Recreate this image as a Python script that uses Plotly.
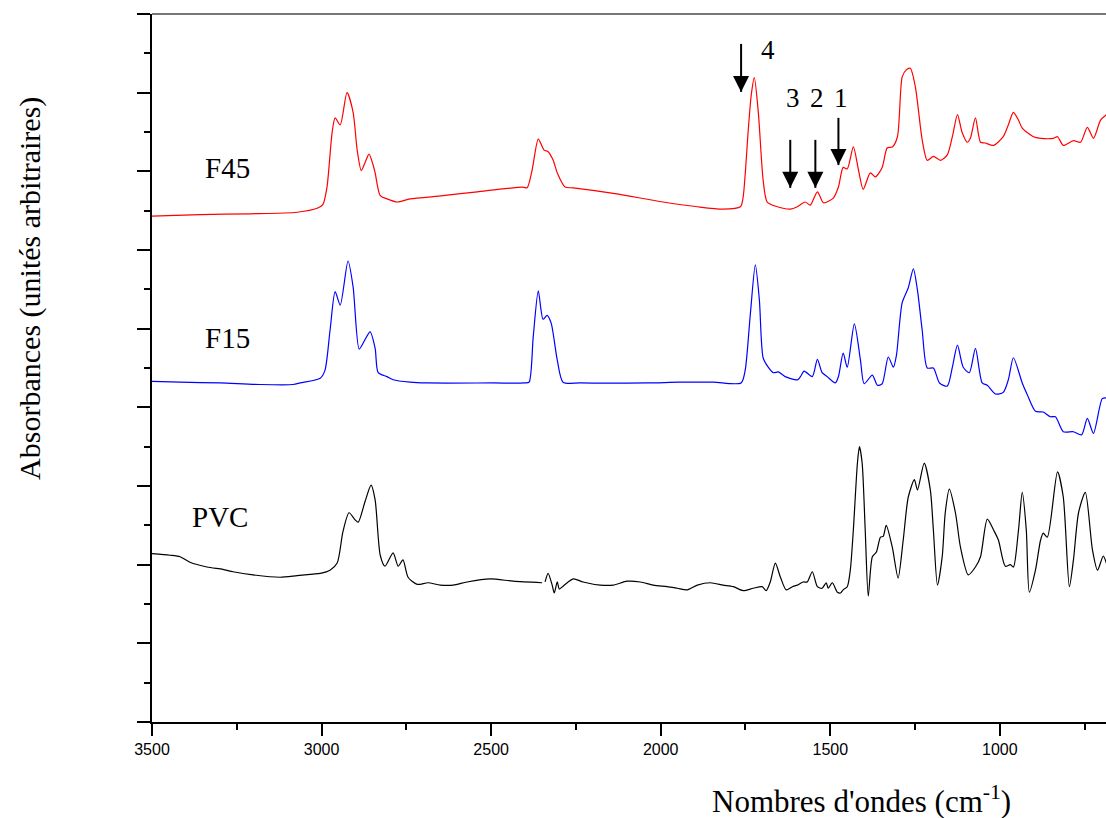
import plotly.graph_objects as go

# Infrared spectra (wavenumber in cm-1, absorbance in arbitrary offset units)
f45_wn = [3500, 3358, 3211, 3072, 3013, 2996, 2984, 2969, 2960, 2945, 2925, 2907,
          2895, 2883, 2872, 2860, 2848, 2842, 2827, 2807, 2777, 2739, 2642, 2541,
          2406, 2394, 2379, 2361, 2344, 2332, 2317, 2305, 2282, 2258, 2140, 1993,
          1892, 1816, 1765, 1757, 1742, 1733, 1724, 1712, 1698, 1686, 1656, 1618,
          1597, 1574, 1559, 1538, 1520, 1491, 1476, 1462, 1450, 1432, 1417, 1403,
          1382, 1367, 1347, 1332, 1317, 1302, 1288, 1276, 1264, 1249, 1229, 1214,
          1196, 1175, 1155, 1140, 1125, 1111, 1096, 1087, 1072, 1057, 1043, 1019,
          990, 975, 960, 945, 934, 901, 880, 842, 830, 813, 783, 762, 742, 724,
          703, 686]
f45_abs = [6.43, 6.45, 6.46, 6.48, 6.53, 6.58, 6.80, 7.49, 7.68, 7.59, 8.00, 7.75,
           7.27, 7.01, 7.11, 7.22, 7.08, 6.98, 6.69, 6.65, 6.61, 6.65, 6.69, 6.74,
           6.80, 6.79, 7.02, 7.41, 7.27, 7.25, 7.14, 6.98, 6.80, 6.79, 6.72, 6.61,
           6.55, 6.52, 6.55, 6.67, 7.52, 7.97, 8.19, 7.74, 6.89, 6.61, 6.55, 6.52,
           6.55, 6.61, 6.57, 6.74, 6.60, 6.66, 6.80, 7.05, 7.03, 7.31, 7.02, 6.77,
           6.98, 6.93, 7.05, 7.30, 7.31, 7.44, 8.20, 8.29, 8.31, 8.07, 7.40, 7.14,
           7.19, 7.14, 7.21, 7.44, 7.72, 7.49, 7.37, 7.42, 7.68, 7.37, 7.36, 7.33,
           7.44, 7.59, 7.75, 7.65, 7.55, 7.44, 7.42, 7.42, 7.44, 7.33, 7.39, 7.37,
           7.56, 7.42, 7.65, 7.72]

f15_wn = [3500, 3417, 3299, 3181, 3084, 3063, 3004, 2990, 2975, 2960, 2945, 2922,
          2907, 2889, 2872, 2857, 2842, 2833, 2807, 2789, 2739, 2689, 2494, 2400,
          2388, 2376, 2361, 2347, 2335, 2323, 2305, 2288, 2237, 2040, 1944, 1845,
          1763, 1751, 1736, 1721, 1709, 1698, 1683, 1668, 1653, 1633, 1597, 1588,
          1577, 1553, 1538, 1524, 1509, 1485, 1476, 1462, 1450, 1429, 1411, 1400,
          1376, 1361, 1347, 1329, 1314, 1305, 1288, 1270, 1255, 1243, 1229, 1214,
          1196, 1178, 1155, 1140, 1125, 1108, 1090, 1072, 1052, 1037, 1013, 990,
          975, 960, 934, 919, 895, 872, 851, 836, 813, 783, 759, 742, 724, 698, 686]
f15_abs = [4.33, 4.32, 4.31, 4.29, 4.29, 4.31, 4.37, 4.47, 4.98, 5.47, 5.30, 5.86,
           5.53, 4.74, 4.86, 4.96, 4.75, 4.44, 4.39, 4.35, 4.32, 4.31, 4.31, 4.31,
           4.32, 4.89, 5.48, 5.12, 5.17, 5.07, 4.60, 4.32, 4.31, 4.31, 4.32, 4.32,
           4.31, 4.47, 5.17, 5.81, 5.36, 4.63, 4.51, 4.44, 4.45, 4.39, 4.35, 4.39,
           4.46, 4.39, 4.61, 4.44, 4.39, 4.31, 4.39, 4.69, 4.51, 5.06, 4.60, 4.30,
           4.41, 4.28, 4.30, 4.64, 4.51, 4.66, 5.33, 5.52, 5.76, 5.49, 4.98, 4.50,
           4.50, 4.31, 4.27, 4.51, 4.79, 4.51, 4.44, 4.75, 4.31, 4.28, 4.17, 4.19,
           4.35, 4.63, 4.31, 4.16, 3.95, 3.94, 3.88, 3.88, 3.69, 3.69, 3.65, 3.86,
           3.67, 4.11, 4.12]

pvc_wn = [3500, 3447, 3417, 3388, 3338, 3291, 3261, 3202, 3122, 3072, 3025, 3004,
          2975, 2954, 2937, 2919, 2901, 2892, 2872, 2854, 2842, 2827, 2813, 2789,
          2774, 2760, 2745, 2718, 2686, 2650, 2612, 2571, 2503, 2435, 2350, None,
          2341, 2332, 2320, 2314, 2305, 2299, 2287, 2258, 2229, 2178, 2140, 2099,
          2060, 2022, 1981, 1951, 1922, 1892, 1854, 1816, 1786, 1757, 1727, 1701,
          1689, 1677, 1662, 1647, 1630, 1612, 1597, 1580, 1568, 1553, 1538, 1524,
          1512, 1506, 1494, 1479, 1470, 1462, 1450, 1441, 1432, 1420, 1414, 1406,
          1397, 1388, 1376, 1364, 1352, 1344, 1335, 1317, 1300, 1285, 1270, 1252,
          1243, 1223, 1205, 1196, 1184, 1170, 1161, 1149, 1131, 1116, 1093, 1072,
          1057, 1037, 1016, 1004, 984, 969, 960, 945, 934, 922, 913, 895, 880, 872,
          860, 830, 813, 795, 783, 768, 748, 727, 712, 695, 686]
pvc_abs = [2.14, 2.12, 2.10, 2.03, 1.97, 1.94, 1.91, 1.87, 1.84, 1.86, 1.88, 1.89,
           1.93, 2.02, 2.42, 2.66, 2.57, 2.54, 2.80, 3.01, 2.82, 2.12, 1.98, 2.15,
           1.98, 2.06, 1.84, 1.75, 1.77, 1.74, 1.74, 1.78, 1.82, 1.79, 1.77, None,
           1.78, 1.89, 1.74, 1.64, 1.78, 1.69, 1.73, 1.82, 1.78, 1.74, 1.74, 1.79,
           1.78, 1.74, 1.72, 1.70, 1.68, 1.74, 1.77, 1.74, 1.72, 1.67, 1.70, 1.72,
           1.67, 1.78, 2.02, 1.84, 1.68, 1.72, 1.74, 1.78, 1.78, 1.91, 1.72, 1.70,
           1.77, 1.70, 1.77, 1.65, 1.64, 1.68, 1.72, 1.93, 2.44, 3.29, 3.50, 3.29,
           2.44, 1.60, 2.10, 2.16, 2.35, 2.36, 2.50, 2.22, 1.83, 2.31, 2.86, 3.08,
           2.95, 3.29, 2.95, 2.44, 1.74, 2.10, 2.66, 2.96, 2.66, 2.22, 1.87, 1.97,
           2.10, 2.58, 2.42, 2.31, 1.98, 2.00, 1.97, 2.44, 2.92, 2.44, 1.65, 1.93,
           2.31, 2.40, 2.35, 3.18, 2.86, 1.72, 2.06, 2.66, 2.92, 2.19, 1.93, 2.11,
           2.02]

x_ticks = [3500, 3000, 2500, 2000, 1500, 1000]

# Band markers on the F45 spectrum: label, wavenumber, arrow tail and tip heights
band_labels = ["4", "3", "2", "1"]
band_wn = [1763, 1618, 1544, 1476]
band_tail = [8.62, 7.40, 7.40, 7.68]
band_tip = [8.01, 6.79, 6.79, 7.08]
band_label_wn = [1683, 1609, 1538, 1467]
band_label_y = [8.54, 7.93, 7.93, 7.93]

series_names = ["F45", "F15", "PVC"]
series_label_wn = [3276, 3276, 3299]
series_label_y = [7.04, 4.88, 2.61]

serif = "Liberation Serif, Times New Roman, serif"

fig = go.Figure()
for wn, ab, col, name in [(f45_wn, f45_abs, "#ff0000", "F45"),
                          (f15_wn, f15_abs, "#0000ff", "F15"),
                          (pvc_wn, pvc_abs, "#000000", "PVC")]:
    fig.add_trace(go.Scatter(x=wn, y=ab, mode="lines", name=name,
                             line=dict(color=col, width=1.2, shape="spline", smoothing=0.7),
                             connectgaps=False, showlegend=False))

# Arrow shafts (one segment per band, separated by gaps)
shaft_x, shaft_y = [], []
for xw, y0, y1 in zip(band_wn, band_tail, band_tip):
    shaft_x += [xw, xw, None]
    shaft_y += [y0, y1, None]
fig.add_trace(go.Scatter(x=shaft_x, y=shaft_y, mode="lines",
                         line=dict(color="black", width=2), showlegend=False,
                         hoverinfo="skip"))
# Arrow heads: the arrow-down symbol has its apex on the data point
fig.add_trace(go.Scatter(x=band_wn, y=band_tip, mode="markers",
                         marker=dict(symbol="arrow-down", size=16, color="black",
                                     line=dict(width=0)),
                         showlegend=False, hoverinfo="skip"))

annotations = []
for name, xw, yv in zip(series_names, series_label_wn, series_label_y):
    annotations.append(dict(x=xw, y=yv, xref="x", yref="y", text=name, showarrow=False,
                            font=dict(family=serif, size=29, color="black")))
for lab, xw, yv in zip(band_labels, band_label_wn, band_label_y):
    annotations.append(dict(x=xw, y=yv, xref="x", yref="y", text=lab, showarrow=False,
                            font=dict(family=serif, size=27, color="black")))

annotations.append(dict(x=0.744, y=-0.110, xref="paper", yref="paper",
                        xanchor="center", yanchor="middle",
                        text="Nombres d'ondes (cm<sup>-1</sup>)", showarrow=False,
                        font=dict(family=serif, size=31, color="black")))
annotations.append(dict(x=-0.128, y=0.613, xref="paper", yref="paper",
                        xanchor="center", yanchor="middle",
                        text="Absorbances (unités arbitraires)", textangle=-90,
                        showarrow=False, font=dict(family=serif, size=30, color="black")))

fig.update_layout(
    width=1106, height=818,
    margin=dict(l=152, r=0, t=14, b=96),
    paper_bgcolor="white", plot_bgcolor="white",
    annotations=annotations,
    shapes=[dict(type="line", xref="paper", yref="paper", x0=0, x1=1, y0=1, y1=1,
                 line=dict(color="#777777", width=2))],
)
fig.update_xaxes(range=[3500, 687], tickmode="array", tickvals=x_ticks,
                 ticktext=[str(v) for v in x_ticks], ticks="outside", ticklen=12,
                 tickwidth=1.5, tickcolor="black", showline=True, linecolor="black",
                 linewidth=2, showgrid=False, zeroline=False,
                 tickfont=dict(family="Liberation Sans, Arial, sans-serif", size=16, color="black"),
                 minor=dict(dtick=250, tick0=0, ticks="outside", ticklen=6, tickcolor="black", tickwidth=1.5))
fig.update_yaxes(range=[0, 9], dtick=1, tick0=0, ticks="outside", ticklen=13, tickwidth=1.5,
                 tickcolor="black", showticklabels=False, showline=True, linecolor="black",
                 linewidth=2, showgrid=False, zeroline=False,
                 minor=dict(dtick=0.5, tick0=0, ticks="outside", ticklen=6, tickcolor="black", tickwidth=1.5))

fig.write_html("out.html")
